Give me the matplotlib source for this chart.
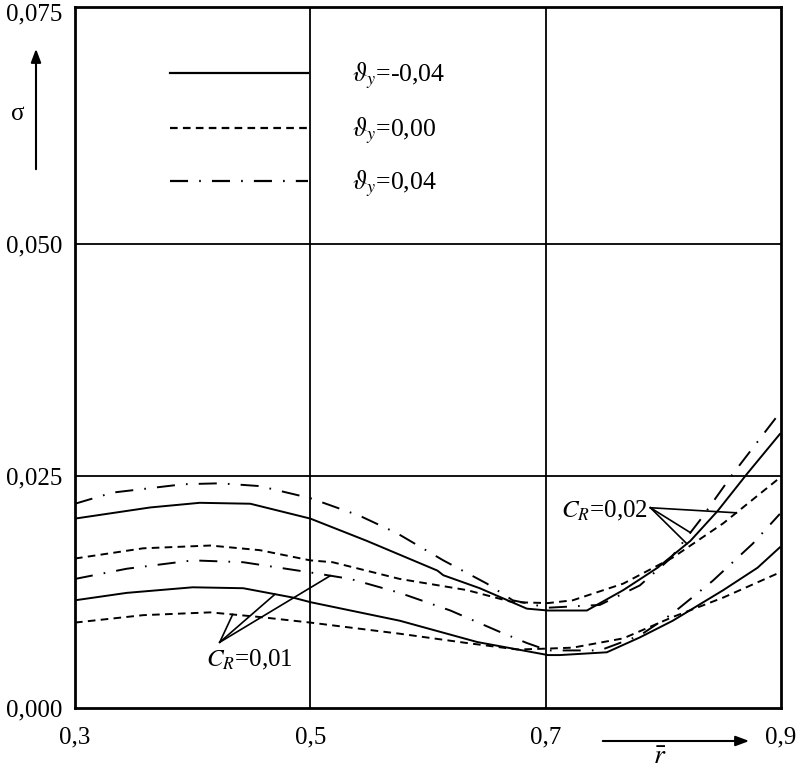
import numpy as np
import matplotlib
matplotlib.use("Agg")
import matplotlib.pyplot as plt

plt.rcParams['font.family'] = ['Liberation Serif', 'DejaVu Serif']
plt.rcParams['mathtext.fontset'] = 'stix'
plt.rcParams['lines.scale_dashes'] = False

# ---- data ----
# C_R = 0,02 group
x_hi_neg = [0.300, 0.364, 0.406, 0.449, 0.500, 0.548, 0.608, 0.613, 0.644, 0.684, 0.702, 0.735, 0.766, 0.795, 0.823, 0.846, 0.871, 0.899]
y_hi_neg = [0.0204, 0.0216, 0.0221, 0.0220, 0.0204, 0.0180, 0.0148, 0.0143, 0.0129, 0.0107, 0.0105, 0.0105, 0.0127, 0.0151, 0.0180, 0.0212, 0.0252, 0.0295]
x_hi_zero = [0.300, 0.358, 0.415, 0.457, 0.500, 0.519, 0.576, 0.633, 0.672, 0.702, 0.723, 0.766, 0.808, 0.851, 0.899]
y_hi_zero = [0.0161, 0.0172, 0.0175, 0.0170, 0.0159, 0.0157, 0.0139, 0.0127, 0.0114, 0.0113, 0.0116, 0.0134, 0.0162, 0.0199, 0.0248]
x_hi_pos = [0.300, 0.332, 0.392, 0.423, 0.457, 0.500, 0.542, 0.574, 0.613, 0.650, 0.672, 0.702, 0.746, 0.780, 0.806, 0.831, 0.859, 0.899]
y_hi_pos = [0.0220, 0.0232, 0.0241, 0.0242, 0.0239, 0.0226, 0.0207, 0.0188, 0.0159, 0.0134, 0.0116, 0.0108, 0.0111, 0.0132, 0.0161, 0.0202, 0.0252, 0.0318]
# C_R = 0,01 group
x_lo_neg = [0.300, 0.344, 0.400, 0.443, 0.485, 0.500, 0.576, 0.642, 0.672, 0.702, 0.712, 0.752, 0.780, 0.808, 0.851, 0.880, 0.899]
y_lo_neg = [0.0116, 0.0124, 0.0130, 0.0129, 0.0119, 0.0114, 0.0094, 0.0071, 0.0064, 0.0057, 0.0057, 0.0060, 0.0076, 0.0094, 0.0127, 0.0151, 0.0173]
x_lo_zero = [0.300, 0.358, 0.415, 0.457, 0.500, 0.576, 0.633, 0.676, 0.702, 0.723, 0.766, 0.808, 0.851, 0.899]
y_lo_zero = [0.0092, 0.0100, 0.0103, 0.0098, 0.0092, 0.0080, 0.0070, 0.0063, 0.0064, 0.0065, 0.0075, 0.0098, 0.0119, 0.0146]
x_lo_pos = [0.300, 0.344, 0.400, 0.443, 0.500, 0.534, 0.576, 0.619, 0.661, 0.684, 0.702, 0.746, 0.780, 0.808, 0.842, 0.876, 0.899]
y_lo_pos = [0.0139, 0.0150, 0.0159, 0.0157, 0.0146, 0.0139, 0.0124, 0.0105, 0.0082, 0.0070, 0.0062, 0.0062, 0.0078, 0.0102, 0.0137, 0.0177, 0.0209]

legend_labels = [r"$\vartheta_{y}$=-0,04", r"$\vartheta_{y}$=0,00", r"$\vartheta_{y}$=0,04"]
x_ticks = [0.3, 0.5, 0.7, 0.9]
x_ticklabels = ["0,3", "0,5", "0,7", "0,9"]
y_ticks = [0.000, 0.025, 0.050, 0.075]
y_ticklabels = ["0,000", "0,025", "0,050", "0,075"]
cr_labels = [r"$C_R$=0,01", r"$C_R$=0,02"]

# ---- styles ----
solid = dict(color='black', lw=1.4, linestyle='-')
dashed = dict(color='black', lw=1.4, linestyle=(0, (5.5, 3.8)))
dashdot = dict(color='black', lw=1.4, linestyle=(0, (13, 8, 1.2, 8)))

W, H = 800, 774
fig = plt.figure(figsize=(W / 100, H / 100), dpi=100)
ax = fig.add_axes([75 / W, 1 - 708 / H, (781 - 75) / W, (708 - 7) / H])
ax.set_xlim(0.3, 0.9)
ax.set_ylim(0.0, 0.0755)

ax.plot(x_hi_neg, y_hi_neg, **solid)
ax.plot(x_hi_zero, y_hi_zero, **dashed)
ax.plot(x_hi_pos, y_hi_pos, **dashdot)
ax.plot(x_lo_neg, y_lo_neg, **solid)
ax.plot(x_lo_zero, y_lo_zero, **dashed)
ax.plot(x_lo_pos, y_lo_pos, **dashdot)

# grid lines
for xv in x_ticks[1:-1]:
    ax.axvline(xv, color='black', lw=1.3)
for yv in y_ticks[1:-1]:
    ax.axhline(yv, color='black', lw=1.3)

for s in ax.spines.values():
    s.set_linewidth(2.0)
    s.set_color('black')

ax.set_xticks(x_ticks)
ax.set_xticklabels(x_ticklabels, fontsize=18)
ax.set_yticks(y_ticks)
ax.set_yticklabels(y_ticklabels, fontsize=18)
ax.tick_params(axis='both', length=0)
ax.tick_params(axis='x', pad=13)
ax.tick_params(axis='y', pad=9)

# legend drawn as lines + text in axes fraction
def fx(px):
    return (px - 75) / (781 - 75)

def fy(py):
    return 1 - (py - 7) / (708 - 7)

for (style, lab, py) in zip([solid, dashed, dashdot], legend_labels, [73, 128, 181]):
    st = dict(style)
    st['lw'] = 1.6
    ax.plot([fx(170), fx(308)], [fy(py), fy(py)], transform=ax.transAxes, **st)
    ax.text(fx(352), fy(py + 3), lab, transform=ax.transAxes, fontsize=18.5,
            va='center', ha='left')

# C_R annotations with leader lines to the curves
apex1 = (0.423, 0.00708)
targets1 = [(0.470, x_lo_neg, y_lo_neg), (0.434, x_lo_zero, y_lo_zero), (0.517, x_lo_pos, y_lo_pos)]
for tx, xs, ys in targets1:
    ty = np.interp(tx, xs, ys)
    ax.plot([apex1[0], tx], [apex1[1], ty], color='black', lw=1.2)
ax.text(0.448, 0.0052, cr_labels[0], fontsize=18, ha='center', va='center')

apex2 = (0.789, 0.02157)
targets2 = [(0.862, x_hi_zero, y_hi_zero), (0.823, x_hi_pos, y_hi_pos), (0.820, x_hi_neg, y_hi_neg)]
for tx, xs, ys in targets2:
    ty = np.interp(tx, xs, ys)
    ax.plot([apex2[0], tx], [apex2[1], ty], color='black', lw=1.2)
ax.text(0.750, 0.0212, cr_labels[1], fontsize=18, ha='center', va='center')

# axis labels with arrows
fig.text(18 / W, 1 - 114 / H, "σ", fontsize=18, ha='center', va='center')
fig.add_artist(matplotlib.patches.FancyArrowPatch(
    (36 / W, 1 - 172 / H), (36 / W, 1 - 46 / H), transform=fig.transFigure,
    arrowstyle='-|>,head_length=8,head_width=3', color='black', lw=1.5,
    mutation_scale=1))
fig.add_artist(matplotlib.patches.FancyArrowPatch(
    (600 / W, 1 - 741 / H), (752 / W, 1 - 741 / H), transform=fig.transFigure,
    arrowstyle='-|>,head_length=8,head_width=3', color='black', lw=1.5,
    mutation_scale=1))
fig.text(660 / W, 1 - 758 / H, r"$\bar{r}$", fontsize=20, ha='center', va='center')

fig.savefig("out.png", dpi=100)
